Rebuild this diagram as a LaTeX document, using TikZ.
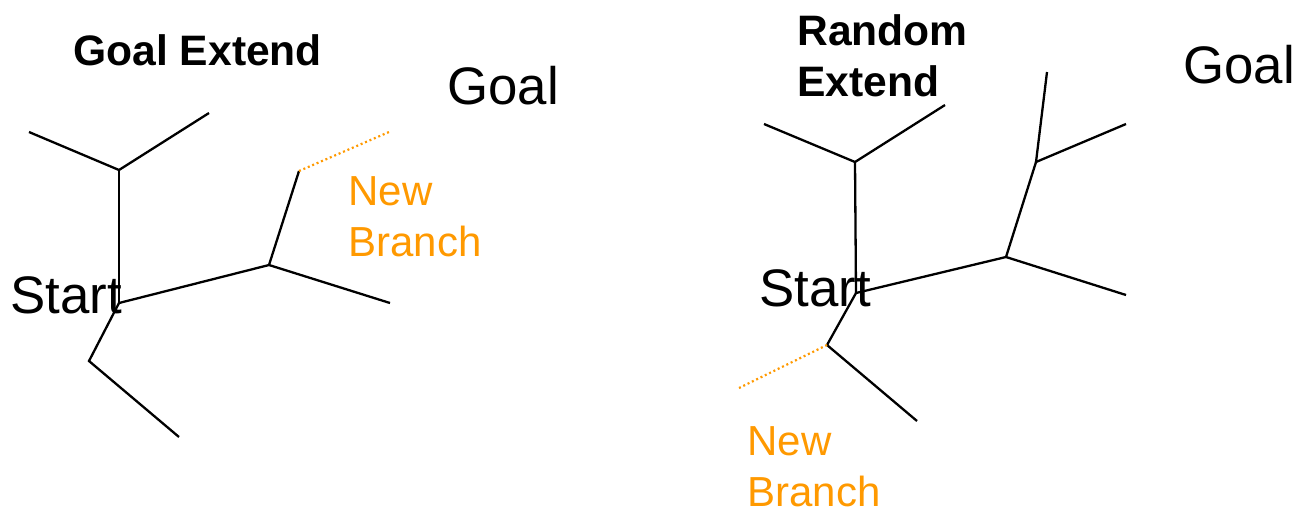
\documentclass[tikz,border=0pt]{standalone}
\usepackage{fontspec}
\setmainfont{Liberation Sans}
\definecolor{branchorange}{HTML}{FF9900}
\begin{document}
\begin{tikzpicture}[x=0.5pt,y=-0.5pt,
  edge/.style={draw=black,line width=1.15pt},
  newedge/.style={draw=branchorange,line width=1.1pt,dash pattern=on 1pt off 1.4pt},
  title/.style={font=\bfseries\fontsize{21.3}{25.5}\selectfont,inner sep=0pt,align=left},
  big/.style={font=\fontsize{26.4}{31}\selectfont,inner sep=0pt},
  newlabel/.style={font=\fontsize{21}{25.5}\selectfont,text=branchorange,inner sep=0pt,align=left}]
\useasboundingbox (0,0) rectangle (1300,510);

% ---- left tree: goal-directed extension ----
\node[title,anchor=base west] (gtitle) at (73,65) {Goal Extend};
\node[big,anchor=base west] (lgoal) at (447,104) {Goal};
\node[big,anchor=base west] (lstart) at (10,313) {Start};
\node[newlabel,anchor=north west] (lnew) at (348,176) {New\\Branch};

\coordinate (lroot) at (119,303);
\coordinate (la) at (119,170);
\coordinate (la1) at (29,132);
\coordinate (la2) at (209,113);
\coordinate (lb) at (269,265);
\coordinate (lb1) at (390,303);
\coordinate (lb2) at (299,171);
\coordinate (lc) at (89,361);
\coordinate (lc1) at (179,437);
\coordinate (lnewend) at (389,132);

\draw[edge] (la1) -- (la) -- (la2);
\draw[edge] (la) -- (lroot);
\draw[edge] (lroot) -- (lb) -- (lb1);
\draw[edge] (lb) -- (lb2);
\draw[edge] (lroot) -- (lc) -- (lc1);
\draw[newedge] (lb2) -- (lnewend);

% ---- right tree: random extension ----
\node[title,anchor=north west] (rtitle) at (797,14) {Random\\Extend};
\node[big,anchor=base west] (rgoal) at (1183,83) {Goal};
\node[big,anchor=base west] (rstart) at (759,306) {Start};
\node[newlabel,anchor=north west] (rnew) at (747,426) {New\\Branch};

\coordinate (rroot) at (856,293);
\coordinate (ra) at (855,162);
\coordinate (ra1) at (764,124);
\coordinate (ra2) at (945,105);
\coordinate (rb) at (1006,257);
\coordinate (rb1) at (1126,295);
\coordinate (rd) at (1036,162);
\coordinate (rd1) at (1126,124);
\coordinate (rd2) at (1047,72);
\coordinate (rc) at (827,345);
\coordinate (rc1) at (917,421);
\coordinate (rnewend) at (739,388);

\draw[edge] (ra1) -- (ra) -- (ra2);
\draw[edge] (ra) -- (rroot);
\draw[edge] (rroot) -- (rb) -- (rb1);
\draw[edge] (rb) -- (rd) -- (rd1);
\draw[edge] (rd) -- (rd2);
\draw[edge] (rroot) -- (rc) -- (rc1);
\draw[newedge] (rc) -- (rnewend);
\end{tikzpicture}
\end{document}
